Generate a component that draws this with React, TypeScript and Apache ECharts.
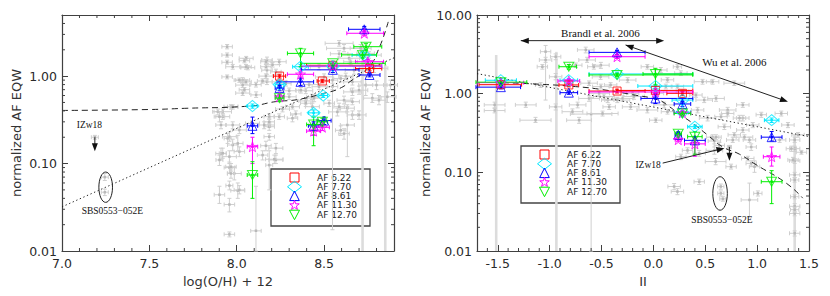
import React, { useEffect, useRef } from "react";
import * as echarts from "echarts";

// ---------------- shared ----------------
const FEATURES = ["AF 6.22", "AF 7.70", "AF 8.61", "AF 11.30", "AF 12.70"];
const FEATURE_COLORS = ["#ff0000", "#00e8ff", "#0000ff", "#ff00ff", "#00ee00"];

const LEFT_X = [7.0, 8.9];
const LEFT_Y = [0.01, 5];
const RIGHT_X = [-1.7, 1.5];
const RIGHT_Y = [0.01, 10];

// minor tick values
const leftXMinor = [7.1, 7.2, 7.3, 7.4, 7.6, 7.7, 7.8, 7.9, 8.1, 8.2, 8.3, 8.4, 8.6, 8.7, 8.8];
const leftYMinor = [0.02, 0.03, 0.04, 0.05, 0.06, 0.07, 0.08, 0.09, 0.2, 0.3, 0.4, 0.5, 0.6, 0.7, 0.8, 0.9, 2, 3, 4];
const rightXMinor = [-1.6, -1.4, -1.3, -1.2, -1.1, -0.9, -0.8, -0.7, -0.6, -0.4, -0.3, -0.2, -0.1, 0.1, 0.2, 0.3, 0.4, 0.6, 0.7, 0.8, 0.9, 1.1, 1.2, 1.3, 1.4];
const rightYMinor = [0.02, 0.03, 0.04, 0.05, 0.06, 0.07, 0.08, 0.09, 0.2, 0.3, 0.4, 0.5, 0.6, 0.7, 0.8, 0.9, 2, 3, 4, 5, 6, 7, 8, 9];

// ---------------- left panel: metallicity ----------------
// comparison sample: [x, y, xErr, yLow, yHigh]
const leftGray = [
  [7.945, 2.17, 0.03, 2.05, 2.3], [7.945, 1.74, 0.03, 1.65, 1.84], [7.945, 1.44, 0.03, 1.37, 1.52],
  [7.945, 0.98, 0.03, 0.93, 1.03], [8.054, 1.6, 0.04, 1.52, 1.68], [8.063, 1.25, 0.04, 1.18, 1.32],
  [7.977, 1.28, 0.04, 1.2, 1.36], [8.173, 1.53, 0.03, 1.4, 1.65], [8.173, 1.17, 0.03, 1.05, 1.3],
  [8.173, 0.86, 0.03, 0.8, 0.93], [8.034, 0.9, 0.04, 0.84, 0.96], [8.034, 0.79, 0.04, 0.74, 0.84],
  [8.034, 0.64, 0.04, 0.6, 0.68], [8.111, 0.61, 0.03, 0.57, 0.66], [7.967, 0.447, 0.04, 0.42, 0.47],
  [7.92, 0.392, 0.05, 0.37, 0.42], [7.92, 0.344, 0.04, 0.32, 0.37], [8.09, 0.288, 0.04, 0.27, 0.31],
  [8.186, 0.276, 0.03, 0.26, 0.3], [8.015, 0.242, 0.04, 0.22, 0.26], [8.186, 0.344, 0.03, 0.32, 0.37],
  [7.892, 0.392, 0.03, 0.36, 0.42], [7.901, 0.344, 0.03, 0.3, 0.39], [7.977, 0.447, 0.03, 0.42, 0.47],
  [7.91, 0.276, 0.03, 0.25, 0.3], [7.977, 0.276, 0.04, 0.25, 0.3], [7.958, 0.203, 0.04, 0.18, 0.23],
  [7.977, 0.163, 0.03, 0.14, 0.19], [7.91, 0.13, 0.03, 0.11, 0.15], [7.958, 0.12, 0.04, 0.1, 0.14],
  [7.901, 0.11, 0.02, 0.095, 0.125], [7.958, 0.09, 0.03, 0.078, 0.104], [7.986, 0.077, 0.04, 0.065, 0.09],
  [7.958, 0.056, 0.02, 0.05, 0.063], [8.006, 0.049, 0.04, 0.04, 0.06], [7.901, 0.044, 0.03, 0.035, 0.055],
  [7.958, 0.034, 0.03, 0.028, 0.04], [7.958, 0.0155, 0.03, 0.0145, 0.0165], [8.11, 0.017, 0.03, 0.01, 0.055],
  [8.148, 0.125, 0.03, 0.11, 0.14], [8.167, 0.16, 0.03, 0.14, 0.18], [8.224, 0.15, 0.04, 0.13, 0.17],
  [8.186, 0.264, 0.03, 0.24, 0.29], [8.186, 0.3, 0.03, 0.28, 0.33], [8.186, 0.203, 0.03, 0.185, 0.22],
  [8.224, 0.11, 0.04, 0.1, 0.125], [8.015, 0.05, 0.03, 0.045, 0.056], [7.967, 0.077, 0.02, 0.068, 0.087],
  [7.92, 0.131, 0.02, 0.115, 0.15], [8.015, 0.137, 0.03, 0.12, 0.155], [7.967, 0.092, 0.03, 0.082, 0.1],
  [8.186, 0.096, 0.02, 0.05, 0.14], [8.215, 0.112, 0.05, 0.1, 0.125], [8.006, 0.17, 0.03, 0.14, 0.21],
  [7.948, 0.194, 0.02, 0.17, 0.22], [8.157, 0.276, 0.03, 0.25, 0.3], [8.167, 1.46, 0.03, 1.38, 1.55],
  [8.167, 1.28, 0.03, 1.2, 1.36], [8.205, 1.35, 0.04, 1.27, 1.43], [8.243, 1.46, 0.04, 1.36, 1.56],
  [8.224, 1.12, 0.03, 1.05, 1.2], [8.167, 1.0, 0.04, 0.94, 1.06], [8.148, 0.88, 0.03, 0.83, 0.93],
  [8.11, 0.8, 0.03, 0.75, 0.85], [8.243, 0.86, 0.04, 0.81, 0.92], [8.281, 0.82, 0.03, 0.77, 0.88],
  [8.3, 0.68, 0.04, 0.63, 0.73], [8.3, 0.58, 0.04, 0.54, 0.62], [8.262, 0.42, 0.04, 0.39, 0.45],
  [8.243, 0.344, 0.03, 0.32, 0.37], [8.319, 0.447, 0.04, 0.42, 0.48], [8.338, 0.37, 0.03, 0.34, 0.4],
  [8.319, 0.33, 0.03, 0.3, 0.36], [8.395, 0.52, 0.04, 0.48, 0.56], [8.433, 0.447, 0.04, 0.41, 0.49],
  [8.43, 0.58, 0.03, 0.54, 0.62], [8.395, 0.68, 0.04, 0.63, 0.73], [8.414, 0.8, 0.05, 0.74, 0.86],
  [8.471, 0.757, 0.04, 0.7, 0.82], [8.5, 0.98, 0.05, 0.9, 1.06], [8.471, 1.28, 0.05, 1.18, 1.38],
  [8.586, 1.8, 0.05, 1.65, 1.95], [8.624, 1.0, 0.04, 0.92, 1.08], [8.662, 0.86, 0.05, 0.79, 0.93],
  [8.053, 0.86, 0.03, 0.81, 0.91], [8.044, 0.7, 0.03, 0.66, 0.74], [8.015, 0.9, 0.03, 0.85, 0.95],
  [8.053, 1.28, 0.03, 1.2, 1.36], [8.044, 1.5, 0.03, 1.42, 1.58], [8.586, 2.37, 0.08, 2.2, 2.55],
  [8.614, 2.08, 0.1, 1.9, 2.3], [8.643, 1.6, 0.06, 1.4, 1.8], [8.671, 1.17, 0.05, 1.05, 1.3],
  [8.709, 2.08, 0.06, 1.9, 2.3], [8.757, 1.74, 0.07, 1.6, 1.9], [8.738, 0.79, 0.04, 0.6, 1.0],
  [8.7, 0.69, 0.05, 0.62, 0.77], [8.776, 0.56, 0.05, 0.5, 0.63], [8.8, 0.79, 0.06, 0.7, 0.88],
  [8.814, 0.53, 0.04, 0.47, 0.6], [8.614, 0.53, 0.04, 0.48, 0.59], [8.662, 0.66, 0.05, 0.6, 0.73],
  [8.595, 0.94, 0.04, 0.86, 1.02], [8.548, 0.76, 0.03, 0.7, 0.83], [8.529, 0.49, 0.03, 0.45, 0.53],
  [8.633, 0.43, 0.04, 0.39, 0.47], [8.576, 0.39, 0.05, 0.35, 0.43], [8.443, 0.56, 0.04, 0.51, 0.61],
  [8.395, 0.49, 0.03, 0.45, 0.53], [8.367, 0.69, 0.03, 0.64, 0.74], [8.633, 0.276, 0.04, 0.12, 0.45],
  [8.662, 0.36, 0.03, 0.32, 0.4], [8.7, 0.36, 0.04, 0.32, 0.4], [8.595, 0.24, 0.03, 0.21, 0.27],
  [8.614, 0.22, 0.03, 0.19, 0.25], [8.862, 0.58, 0.05, 0.5, 0.66], [8.88, 0.79, 0.04, 0.7, 0.9],
  [8.652, 1.46, 0.04, 1.35, 1.58], [8.785, 1.23, 0.08, 1.1, 1.4], [8.738, 1.82, 0.05, 1.65, 2.0],
  [8.586, 0.447, 0.03, 0.41, 0.49], [8.662, 0.51, 0.04, 0.47, 0.56], [8.548, 0.9, 0.03, 0.0175, 1.1],
  [7.188, 0.2, 0.02, 0.19, 0.21], [7.245, 0.07, 0.02, 0.064, 0.077], [7.245, 0.047, 0.02, 0.043, 0.051],
];
// error bars that run off the bottom of the plot: [x, yLow, yHigh]
const leftGrayLong = [[8.72, 0.01, 2.4], [8.85, 0.01, 1.35]];

// feature measurements: [x, y, xLow, xHigh, yLow, yHigh]
const leftAF622 = [
  [8.245, 1.0, 8.21, 8.28, 0.95, 1.05], [8.49, 0.88, 8.46, 8.53, 0.84, 0.92],
  [8.55, 1.33, 8.4, 8.82, 1.27, 1.4], [8.76, 1.22, 8.68, 8.83, 1.15, 1.3],
];
const leftAF770 = [
  [8.09, 0.455, 8.06, 8.12, 0.43, 0.48], [8.245, 0.8, 8.22, 8.27, 0.76, 0.85],
  [8.365, 1.28, 8.32, 8.41, 1.2, 1.36], [8.44, 0.38, 8.41, 8.47, 0.35, 0.41],
  [8.495, 0.6, 8.47, 8.52, 0.57, 0.63], [8.55, 1.3, 8.37, 8.83, 1.22, 1.38],
  [8.73, 1.74, 8.66, 8.8, 1.65, 1.85],
];
const leftAF861 = [
  [8.09, 0.27, 8.06, 8.12, 0.22, 0.34], [8.245, 0.73, 8.22, 8.27, 0.68, 0.78],
  [8.365, 0.86, 8.23, 8.44, 0.78, 0.95], [8.44, 0.27, 8.41, 8.47, 0.24, 0.3],
  [8.5, 0.31, 8.46, 8.54, 0.28, 0.34], [8.55, 1.18, 8.37, 8.7, 1.1, 1.26],
  [8.73, 3.43, 8.64, 8.82, 3.2, 3.7], [8.76, 1.03, 8.7, 8.82, 0.98, 1.08],
];
const leftAF1130 = [
  [8.09, 0.156, 8.06, 8.12, 0.1, 0.2], [8.245, 0.58, 8.22, 8.27, 0.54, 0.62],
  [8.365, 1.05, 8.29, 8.44, 0.98, 1.12], [8.44, 0.235, 8.4, 8.48, 0.21, 0.26],
  [8.49, 0.26, 8.45, 8.53, 0.24, 0.28], [8.55, 1.3, 8.37, 8.83, 1.25, 1.36],
  [8.73, 3.09, 8.63, 8.84, 2.9, 3.3], [8.75, 1.46, 8.68, 8.84, 1.38, 1.55],
];
const leftAF1270 = [
  [8.09, 0.074, 8.06, 8.12, 0.04, 0.105], [8.245, 0.56, 8.22, 8.27, 0.51, 0.61],
  [8.365, 1.82, 8.29, 8.44, 1.28, 2.08], [8.44, 0.28, 8.4, 8.48, 0.16, 0.34],
  [8.49, 0.3, 8.46, 8.52, 0.27, 0.33], [8.55, 1.4, 8.37, 8.85, 1.32, 1.48],
  [8.74, 2.17, 8.67, 8.83, 2.0, 2.35], [8.72, 1.75, 8.6, 8.8, 1.6, 1.9],
];

const leftDashedX = [7.0, 7.5, 7.7, 8.08, 8.22, 8.35, 8.5, 8.59, 8.66, 8.73, 8.78, 8.81, 8.84, 8.867];
const leftDashedY = [0.405, 0.415, 0.428, 0.455, 0.51, 0.54, 0.637, 0.725, 0.9, 1.12, 1.46, 1.99, 2.82, 4.17];
const leftDottedX = [7.0, 8.9];
const leftDottedY = [0.032, 1.62];

const leftNoteText = ["IZw18", "SBS0553\u2212052E"];
const leftNotePos = [[7.157, 0.276], [7.288, 0.0286]];
const leftNoteSize = [9.5, 9.5];
const leftArrows = [[7.188, 0.2, 7.188, 0.138]];
const leftArrowBoth = [false];
const leftEllipses = [[7.211, 0.036, 7.289, 0.08]];

// ---------------- right panel ----------------
const rightGray = [
  [-1.53, 0.72, 0.1, 0.66, 0.78], [-1.53, 0.61, 0.1, 0.57, 0.65], [-1.039, 3.42, 0.05, 0.83, 4.1],
  [-1.039, 2.68, 0.06, 2.5, 2.9], [-1.07, 2.2, 0.05, 2.05, 2.35], [-0.942, 2.95, 0.05, 2.7, 3.2],
  [-0.942, 1.64, 0.06, 1.5, 1.8], [-0.942, 0.68, 0.06, 0.62, 0.74], [-1.087, 1.29, 0.05, 1.2, 1.38],
  [-0.748, 2.3, 0.06, 2.15, 2.45], [-0.73, 0.72, 0.08, 0.66, 0.78], [-0.78, 0.59, 0.1, 0.55, 0.64],
  [-0.716, 0.46, 0.12, 0.42, 0.5], [-0.62, 1.36, 0.08, 1.27, 1.45], [-0.62, 0.87, 0.1, 0.8, 0.94],
  [-0.6, 0.55, 0.2, 0.01, 0.9], [-0.506, 2.3, 0.08, 2.1, 2.5], [-0.506, 1.23, 0.08, 1.15, 1.32],
  [-0.523, 1.01, 0.1, 0.94, 1.08], [-0.44, 0.83, 0.06, 0.77, 0.9], [-0.426, 0.68, 0.06, 0.63, 0.73],
  [-0.49, 0.56, 0.15, 0.52, 0.6], [-0.248, 1.49, 0.08, 1.38, 1.6], [-0.2, 1.01, 0.06, 0.94, 1.08],
  [-0.296, 0.87, 0.1, 0.8, 0.94], [-0.652, 3.6, 0.08, 3.3, 3.9], [-1.23, 0.72, 0.1, 0.67, 0.78],
  [-1.136, 0.46, 0.15, 0.43, 0.5], [0.604, 0.87, 0.08, 0.8, 0.94], [0.652, 0.51, 0.06, 0.47, 0.55],
  [0.684, 0.38, 0.06, 0.35, 0.41], [0.716, 0.62, 0.08, 0.57, 0.67], [0.523, 0.49, 0.08, 0.45, 0.53],
  [0.571, 0.28, 0.06, 0.26, 0.3], [0.78, 0.3, 0.06, 0.28, 0.32], [0.878, 0.28, 0.08, 0.26, 0.3],
  [0.943, 0.21, 0.05, 0.19, 0.23], [0.91, 0.15, 0.06, 0.14, 0.16], [0.943, 0.13, 0.05, 0.12, 0.14],
  [0.975, 0.118, 0.05, 0.1, 0.14], [0.926, 0.0446, 0.08, 0.027, 0.073], [1.007, 0.054, 0.04, 0.05, 0.058],
  [1.362, 0.258, 0.05, 0.24, 0.28], [1.362, 0.2, 0.05, 0.185, 0.215], [1.362, 0.14, 0.05, 0.13, 0.15],
  [1.362, 0.093, 0.05, 0.086, 0.1], [1.362, 0.037, 0.05, 0.034, 0.04], [1.362, 0.03, 0.05, 0.028, 0.032],
  [1.362, 0.0168, 0.05, 0.0155, 0.018], [1.427, 0.18, 0.05, 0.17, 0.19], [1.297, 0.4, 0.06, 0.37, 0.43],
  [1.233, 0.56, 0.06, 0.52, 0.6], [1.04, 0.54, 0.05, 0.5, 0.58], [0.862, 0.49, 0.06, 0.45, 0.53],
  [0.862, 0.72, 0.06, 0.67, 0.77], [0.426, 0.62, 0.06, 0.57, 0.67], [0.49, 0.83, 0.08, 0.77, 0.9],
  [0.2, 0.066, 0.06, 0.06, 0.072], [0.232, 0.057, 0.06, 0.052, 0.062], [0.442, 0.076, 0.05, 0.07, 0.082],
  [0.6, 0.137, 0.1, 0.125, 0.15], [0.749, 0.118, 0.05, 0.11, 0.127], [0.265, 0.158, 0.05, 0.145, 0.17],
  [0.329, 0.19, 0.05, 0.175, 0.205], [0.588, 0.19, 0.08, 0.17, 0.21], [0.588, 0.25, 0.06, 0.23, 0.27],
  [0.104, 0.72, 0.1, 0.66, 0.78], [0.136, 0.59, 0.06, 0.55, 0.63], [-0.058, 0.62, 0.1, 0.57, 0.67],
  [-0.187, 0.92, 0.1, 0.85, 0.99], [-0.219, 0.68, 0.08, 0.63, 0.73], [-0.348, 0.83, 0.12, 0.77, 0.9],
  [-0.477, 0.92, 0.1, 0.85, 0.99], [-0.412, 1.29, 0.06, 1.2, 1.38], [-0.509, 1.64, 0.08, 1.52, 1.76],
  [-0.574, 2.2, 0.06, 2.05, 2.35], [-0.639, 2.68, 0.08, 2.5, 2.9], [-0.058, 2.2, 0.06, 2.05, 2.35],
  [0.072, 2.0, 0.06, 1.85, 2.15], [0.232, 2.2, 0.04, 2.05, 2.35], [0.265, 1.82, 0.06, 1.7, 1.95],
  [0.232, 1.23, 0.06, 1.15, 1.32], [0.136, 1.5, 0.06, 1.4, 1.6], [0.039, 1.01, 0.06, 0.94, 1.08],
  [0.474, 1.42, 0.08, 1.32, 1.52], [0.571, 1.42, 0.06, 1.32, 1.52], [0.78, 1.36, 0.1, 1.27, 1.45],
  [0.716, 0.56, 0.06, 0.52, 0.6], [0.83, 0.49, 0.06, 0.45, 0.53], [0.862, 0.345, 0.06, 0.32, 0.37],
  [0.958, 0.4, 0.06, 0.37, 0.43], [0.926, 0.258, 0.06, 0.24, 0.28], [0.765, 0.258, 0.06, 0.24, 0.28],
  [0.604, 0.28, 0.05, 0.26, 0.3], [0.636, 0.22, 0.05, 0.2, 0.24], [0.442, 0.175, 0.06, 0.16, 0.19],
  [1.394, 0.3, 0.06, 0.28, 0.32], [1.33, 0.2, 0.05, 0.185, 0.215], [1.217, 0.258, 0.06, 0.24, 0.28],
  [0.12, 1.23, 0.06, 1.15, 1.32], [0.28, 1.06, 0.06, 0.99, 1.13], [0.41, 0.96, 0.06, 0.9, 1.02],
  [0.023, 0.46, 0.06, 0.43, 0.49], [1.346, 0.144, 0.05, 0.135, 0.155], [1.362, 0.08, 0.04, 0.075, 0.085],
  [1.362, 0.049, 0.04, 0.046, 0.052], [1.362, 0.0335, 0.04, 0.031, 0.036],
  [0.65, 0.066, 0.03, 0.061, 0.071], [0.65, 0.054, 0.03, 0.05, 0.058], [0.67, 0.046, 0.03, 0.043, 0.049],
  [0.733, 0.21, 0.02, 0.2, 0.22],
];
const rightGrayLong = [[-1.515, 0.01, 3.1], [-0.935, 0.01, 3.4], [1.362, 0.01, 0.3]];

const rightAF622 = [
  [-1.47, 1.3, -1.68, -1.27, 1.24, 1.36], [-0.815, 1.29, -0.91, -0.72, 1.22, 1.36],
  [-0.35, 1.08, -0.62, -0.08, 1.02, 1.14], [0.02, 1.1, -0.35, 0.38, 1.04, 1.16],
  [0.28, 1.01, 0.13, 0.38, 0.95, 1.07],
];
const rightAF770 = [
  [-1.47, 1.48, -1.62, -1.32, 1.4, 1.56], [-0.815, 1.48, -0.9, -0.73, 1.4, 1.56],
  [-0.35, 1.78, -0.62, 0.38, 1.68, 1.88], [0.02, 1.25, -0.15, 0.38, 1.18, 1.32],
  [0.28, 0.83, 0.18, 0.38, 0.78, 0.88], [0.28, 0.58, 0.2, 0.36, 0.55, 0.61],
  [0.4, 0.38, 0.33, 0.47, 0.36, 0.4], [1.14, 0.46, 1.07, 1.21, 0.43, 0.49],
];
const rightAF861 = [
  [-1.47, 1.21, -1.71, -1.28, 1.15, 1.27], [-0.815, 1.03, -0.9, -0.73, 0.98, 1.08],
  [-0.35, 3.35, -0.62, -0.08, 3.15, 3.55], [0.02, 0.87, -0.12, 0.38, 0.75, 1.0],
  [0.28, 0.74, 0.2, 0.36, 0.69, 0.79], [0.24, 0.3, 0.21, 0.27, 0.28, 0.32],
  [0.4, 0.255, 0.3, 0.5, 0.24, 0.27], [1.14, 0.28, 1.04, 1.24, 0.25, 0.33],
];
const rightAF1130 = [
  [-1.47, 1.38, -1.7, -1.25, 1.32, 1.44], [-0.815, 1.45, -0.92, -0.71, 1.38, 1.52],
  [-0.35, 2.95, -0.62, -0.08, 2.8, 3.1], [0.02, 1.05, -0.62, 0.38, 0.99, 1.11],
  [0.28, 0.57, 0.2, 0.36, 0.54, 0.6], [0.24, 0.26, 0.21, 0.27, 0.245, 0.275],
  [0.4, 0.23, 0.3, 0.5, 0.16, 0.28], [1.14, 0.158, 1.06, 1.22, 0.12, 0.21],
];
const rightAF1270 = [
  [-1.47, 1.4, -1.71, -1.22, 1.34, 1.46], [-0.815, 2.2, -0.91, -0.74, 2.05, 2.35],
  [-0.35, 1.73, -0.62, 0.38, 1.64, 1.82], [0.02, 1.78, -0.1, 0.38, 1.29, 2.1],
  [0.28, 0.56, 0.2, 0.36, 0.53, 0.59], [0.24, 0.31, 0.21, 0.27, 0.29, 0.33],
  [0.4, 0.284, 0.33, 0.47, 0.17, 0.33], [1.14, 0.076, 1.04, 1.24, 0.04, 0.105],
];

const rightDashedX = [-1.45, -1.1, -0.75, -0.5, -0.2, 0.05, 0.15, 0.25, 0.38, 0.52, 0.67, 0.83, 0.99, 1.28, 1.44];
const rightDashedY = [1.38, 1.32, 1.23, 1.13, 0.97, 0.83, 0.69, 0.55, 0.42, 0.3, 0.21, 0.17, 0.125, 0.073, 0.047];
const rightDottedX = [-1.7, 1.5];
const rightDottedY = [1.8, 0.285];

const rightNoteText = ["Brandl et al. 2006", "Wu et al. 2006", "IZw18", "SBS0553\u2212052E"];
const rightNotePos = [[-0.51, 5.86], [0.78, 2.55], [-0.051, 0.124], [0.66, 0.0248]];
const rightNoteSize = [11, 11, 9.5, 9.5];
const rightArrows = [
  [0.733, 0.21, 0.733, 0.14],
  [0.09, 0.131, 0.685, 0.203],
  [-1.278, 4.72, 0.104, 4.72],
  [-0.268, 4.16, 1.297, 0.79],
];
const rightArrowBoth = [false, false, true, true];
const rightEllipses = [[0.573, 0.033, 0.713, 0.088]];

// ---------------- styling ----------------
const AXIS_COLOR = "#404040";
const GRAY_BAR = "#cfcfcf";
const GRAY_DOT = "#b8b8b8";
const STAR =
  "path://M0,-10L2.35,-3.24L9.51,-3.09L3.8,1.24L5.88,8.09L0,4L-5.88,8.09L-3.8,1.24L-9.51,-3.09L-2.35,-3.24Z";
const SYMBOLS: any[] = [
  { symbol: "rect", size: 8, rotate: 0 },
  { symbol: "diamond", size: [13, 11], rotate: 0 },
  { symbol: "triangle", size: [9, 9], rotate: 0 },
  { symbol: STAR, size: 10, rotate: 0 },
  { symbol: "triangle", size: [10, 9], rotate: 180 },
];

const ln = (x1: number, y1: number, x2: number, y2: number, style: any) => ({
  type: "line",
  shape: { x1, y1, x2, y2 },
  style,
});

function errorSeries(data: number[][], color: string, dot: string, xi: number, z: number, lw: number, dotSize: number) {
  return {
    type: "custom",
    xAxisIndex: xi,
    yAxisIndex: xi,
    z,
    silent: true,
    encode: { x: 0, y: 1 },
    data,
    renderItem: (_p: any, api: any) => {
      const x = api.value(0);
      const y = api.value(1);
      const c = api.coord([x, y]);
      const l = api.coord([api.value(2), y]);
      const r = api.coord([api.value(3), y]);
      const b = api.coord([x, api.value(4)]);
      const t = api.coord([x, api.value(5)]);
      const s = { stroke: color, lineWidth: lw, fill: null };
      const cap = 2;
      const h = dotSize / 2;
      return {
        type: "group",
        children: [
          ln(l[0], c[1], r[0], c[1], s),
          ln(l[0], c[1] - cap, l[0], c[1] + cap, s),
          ln(r[0], c[1] - cap, r[0], c[1] + cap, s),
          ln(c[0], b[1], c[0], t[1], s),
          ln(c[0] - cap, b[1], c[0] + cap, b[1], s),
          ln(c[0] - cap, t[1], c[0] + cap, t[1], s),
          { type: "rect", shape: { x: c[0] - h, y: c[1] - h, width: dotSize, height: dotSize }, style: { fill: dot } },
        ],
      };
    },
  };
}

function longBarSeries(data: number[][], xi: number) {
  return {
    type: "custom",
    xAxisIndex: xi,
    yAxisIndex: xi,
    z: 1,
    silent: true,
    encode: { x: 0, y: 1 },
    data,
    renderItem: (_p: any, api: any) => {
      const b = api.coord([api.value(0), api.value(1)]);
      const t = api.coord([api.value(0), api.value(2)]);
      return ln(b[0], b[1], t[0], t[1], { stroke: "#dcdcdc", lineWidth: 2.6 });
    },
  };
}

function minorTickSeries(xi: number, xVals: number[], yVals: number[], xr: number[], yr: number[]) {
  const data = [
    ...xVals.map((v) => [v, yr[0], 0]),
    ...yVals.map((v) => [xr[0], v, 1]),
  ];
  return {
    type: "custom",
    xAxisIndex: xi,
    yAxisIndex: xi,
    z: 8,
    silent: true,
    encode: { x: 0, y: 1 },
    data,
    renderItem: (_p: any, api: any) => {
      const s = { stroke: AXIS_COLOR, lineWidth: 1 };
      const v0 = api.value(0);
      const v1 = api.value(1);
      if (api.value(2) === 0) {
        const b = api.coord([v0, yr[0]]);
        const t = api.coord([v0, yr[1]]);
        return { type: "group", children: [ln(b[0], b[1], b[0], b[1] - 3, s), ln(t[0], t[1], t[0], t[1] + 3, s)] };
      }
      const l = api.coord([xr[0], v1]);
      const r = api.coord([xr[1], v1]);
      return { type: "group", children: [ln(l[0], l[1], l[0] + 3, l[1], s), ln(r[0], r[1], r[0] - 3, r[1], s)] };
    },
  };
}

function head(tip: number[], ux: number, uy: number) {
  const L = 8;
  const w = 3;
  const bx = tip[0] - ux * L;
  const by = tip[1] - uy * L;
  return {
    type: "polygon",
    shape: { points: [[tip[0], tip[1]], [bx - uy * w, by + ux * w], [bx + uy * w, by - ux * w]] },
    style: { fill: "#111" },
  };
}

function annotationSeries(
  xi: number,
  texts: string[],
  textPos: number[][],
  sizes: number[],
  arrows: number[][],
  both: boolean[],
  ellipses: number[][]
) {
  return [
    {
      type: "custom",
      xAxisIndex: xi,
      yAxisIndex: xi,
      z: 9,
      silent: true,
      encode: { x: 0, y: 1 },
      data: textPos,
      renderItem: (p: any, api: any) => {
        const c = api.coord([api.value(0), api.value(1)]);
        return {
          type: "text",
          x: c[0],
          y: c[1],
          style: {
            text: texts[p.dataIndex],
            fontFamily: "Liberation Serif",
            fontSize: sizes[p.dataIndex],
            fill: "#111",
            align: "center",
            verticalAlign: "middle",
          },
        };
      },
    },
    {
      type: "custom",
      xAxisIndex: xi,
      yAxisIndex: xi,
      z: 9,
      silent: true,
      encode: { x: [0, 2], y: [1, 3] },
      data: arrows,
      renderItem: (p: any, api: any) => {
        const a = api.coord([api.value(0), api.value(1)]);
        const b = api.coord([api.value(2), api.value(3)]);
        const dx = b[0] - a[0];
        const dy = b[1] - a[1];
        const len = Math.hypot(dx, dy);
        const ux = dx / len;
        const uy = dy / len;
        const children: any[] = [ln(a[0], a[1], b[0] - ux * 4, b[1] - uy * 4, { stroke: "#222", lineWidth: 1 }), head(b, ux, uy)];
        if (both[p.dataIndex]) children.push(head(a, -ux, -uy));
        return { type: "group", children };
      },
    },
    {
      type: "custom",
      xAxisIndex: xi,
      yAxisIndex: xi,
      z: 9,
      silent: true,
      encode: { x: [0, 2], y: [1, 3] },
      data: ellipses,
      renderItem: (_p: any, api: any) => {
        const a = api.coord([api.value(0), api.value(1)]);
        const b = api.coord([api.value(2), api.value(3)]);
        return {
          type: "ellipse",
          shape: { cx: (a[0] + b[0]) / 2, cy: (a[1] + b[1]) / 2, rx: Math.abs(b[0] - a[0]) / 2, ry: Math.abs(b[1] - a[1]) / 2 },
          style: { stroke: "#222", lineWidth: 1, fill: null },
        };
      },
    },
  ];
}

function curve(xs: number[], ys: number[], xi: number, dash: number[], smooth: boolean) {
  return {
    type: "line",
    xAxisIndex: xi,
    yAxisIndex: xi,
    z: 3,
    silent: true,
    symbol: "none",
    smooth,
    data: xs.map((x, i) => [x, ys[i]]),
    lineStyle: { color: "#222", width: 1, type: dash },
  };
}

const labelFont = { fontFamily: "DejaVu Sans", fontSize: 12.5, color: "#2a2a2a" };
const nameFont = { fontFamily: "DejaVu Sans", fontSize: 13, color: "#333" };
const lineStyle = { color: AXIS_COLOR, width: 1.2 };

function xAxesFor(gi: number, range: number[], name: string, extra: any) {
  const isHalf = (v: number) => Math.abs(v * 2 - Math.round(v * 2)) < 1e-6;
  const common = {
    gridIndex: gi,
    type: "value",
    min: range[0],
    max: range[1],
    ...extra,
    splitLine: { show: false },
    axisTick: { show: true, inside: true, length: 6, lineStyle: { color: AXIS_COLOR } },
  };
  return [
    {
      ...common,
      position: "bottom",
      axisLine: { show: true, onZero: false, lineStyle },
      axisLabel: { ...labelFont, margin: 6, formatter: (v: number) => (isHalf(v) ? v.toFixed(1) : "") },
      name,
      nameLocation: "middle",
      nameGap: 20,
      nameTextStyle: nameFont,
    },
    {
      ...common,
      position: "top",
      axisLine: { show: true, onZero: false, lineStyle },
      axisLabel: { show: false },
    },
  ];
}

function yAxesFor(gi: number, range: number[], gap: number) {
  const isDecade = (v: number) => Math.abs(Math.log10(v) - Math.round(Math.log10(v))) < 1e-6;
  const common = {
    gridIndex: gi,
    type: "log",
    logBase: 10,
    min: range[0],
    max: range[1],
    splitLine: { show: false },
    axisTick: { show: true, inside: true, length: 6, lineStyle: { color: AXIS_COLOR } },
  };
  return [
    {
      ...common,
      position: "left",
      axisLine: { show: true, onZero: false, lineStyle },
      axisLabel: { ...labelFont, margin: 5, formatter: (v: number) => (isDecade(v) ? v.toFixed(2) : "") },
      name: "normalized AF EQW",
      nameLocation: "middle",
      nameGap: gap,
      nameRotate: 90,
      nameTextStyle: nameFont,
    },
    {
      ...common,
      position: "right",
      axisLine: { show: true, onZero: false, lineStyle },
      axisLabel: { show: false },
    },
  ];
}

function legendGraphic(x: number, y: number) {
  const children: any[] = [
    { type: "rect", shape: { x: 0, y: 0, width: 99, height: 57 }, style: { fill: "transparent", stroke: "#444", lineWidth: 1.3 } },
  ];
  const starPts: number[][] = [];
  for (let k = 0; k < 10; k++) {
    const ang = -Math.PI / 2 + (k * Math.PI) / 5;
    const rr = k % 2 === 0 ? 5 : 2;
    starPts.push([Math.cos(ang) * rr, Math.sin(ang) * rr]);
  }
  const shapes: any[] = [
    { type: "rect", shape: { x: -4.5, y: -4.5, width: 9, height: 9 } },
    { type: "polygon", shape: { points: [[0, -5.5], [7, 0], [0, 5.5], [-7, 0]] } },
    { type: "polygon", shape: { points: [[0, -5], [4.8, 4.5], [-4.8, 4.5]] } },
    { type: "polygon", shape: { points: starPts } },
    { type: "polygon", shape: { points: [[0, 5], [5, -4.5], [-5, -4.5]] } },
  ];
  FEATURES.forEach((f, i) => {
    const cy = 8.5 + i * 9.3;
    children.push({ ...shapes[i], x: 23.5, y: cy, style: { fill: "transparent", stroke: FEATURE_COLORS[i], lineWidth: 1 } });
    children.push({
      type: "text",
      x: 46,
      y: cy,
      style: {
        text: f,
        fontFamily: "DejaVu Sans",
        fontSize: 9,
        lineHeight: 9,
        fill: "#222",
        align: "left",
        verticalAlign: "middle",
      },
    });
  });
  return { type: "group", x, y, children };
}

function buildOption() {
  const leftSets = [leftAF622, leftAF770, leftAF861, leftAF1130, leftAF1270];
  const rightSets = [rightAF622, rightAF770, rightAF861, rightAF1130, rightAF1270];
  const toBars = (g: number[][]) => g.map((r) => [r[0], r[1], r[0] - r[2], r[0] + r[2], r[3], r[4]]);
  const series: any[] = [
    longBarSeries(leftGrayLong, 0),
    longBarSeries(rightGrayLong, 2),
    errorSeries(toBars(leftGray), GRAY_BAR, GRAY_DOT, 0, 2, 1, 2.5),
    errorSeries(toBars(rightGray), GRAY_BAR, GRAY_DOT, 2, 2, 1, 2.5),
    minorTickSeries(0, leftXMinor, leftYMinor, LEFT_X, LEFT_Y),
    minorTickSeries(2, rightXMinor, rightYMinor, RIGHT_X, RIGHT_Y),
    curve(leftDashedX, leftDashedY, 0, [6, 4], true),
    curve(leftDottedX, leftDottedY, 0, [1.3, 2.6], false),
    curve(rightDashedX, rightDashedY, 2, [6, 4], true),
    curve(rightDottedX, rightDottedY, 2, [1.3, 2.6], false),
  ];
  [leftSets, rightSets].forEach((sets, panel) => {
    const xi = panel * 2;
    sets.forEach((d, i) => {
      series.push(errorSeries(d, FEATURE_COLORS[i], FEATURE_COLORS[i], xi, 4, 1, 2.5));
      series.push({
        type: "scatter",
        name: FEATURES[i],
        xAxisIndex: xi,
        yAxisIndex: xi,
        z: 5,
        silent: true,
        symbol: SYMBOLS[i].symbol,
        symbolSize: SYMBOLS[i].size,
        symbolRotate: SYMBOLS[i].rotate,
        data: d.map((r) => [r[0], r[1]]),
        itemStyle: { color: "transparent", borderColor: FEATURE_COLORS[i], borderWidth: 1 },
      });
    });
  });
  series.push(...annotationSeries(0, leftNoteText, leftNotePos, leftNoteSize, leftArrows, leftArrowBoth, leftEllipses));
  series.push(...annotationSeries(2, rightNoteText, rightNotePos, rightNoteSize, rightArrows, rightArrowBoth, rightEllipses));

  return {
    animation: false,
    backgroundColor: "#ffffff",
    grid: [
      { left: 62, top: 15, width: 332, height: 236 },
      { left: 477, top: 15, width: 332, height: 236 },
    ],
    xAxis: [
      ...xAxesFor(0, LEFT_X, "log(O/H) + 12", { interval: 0.5 }),
      ...xAxesFor(1, RIGHT_X, "II", { minInterval: 0.5, maxInterval: 0.5, splitNumber: 6 }),
    ],
    yAxis: [...yAxesFor(0, LEFT_Y, 39), ...yAxesFor(1, RIGHT_Y, 41)],
    series,
    graphic: [legendGraphic(271, 169), legendGraphic(521, 146)],
  };
}

export default function App() {
  const ref = useRef<HTMLDivElement>(null);
  useEffect(() => {
    const chart = echarts.init(ref.current as HTMLDivElement, undefined, { renderer: "svg" });
    chart.setOption(buildOption() as any);
    return () => chart.dispose();
  }, []);
  return (
    <div
      ref={ref}
      style={{ position: "absolute", left: 0, top: 0, width: 830, height: 296, background: "#fff" }}
    />
  );
}
